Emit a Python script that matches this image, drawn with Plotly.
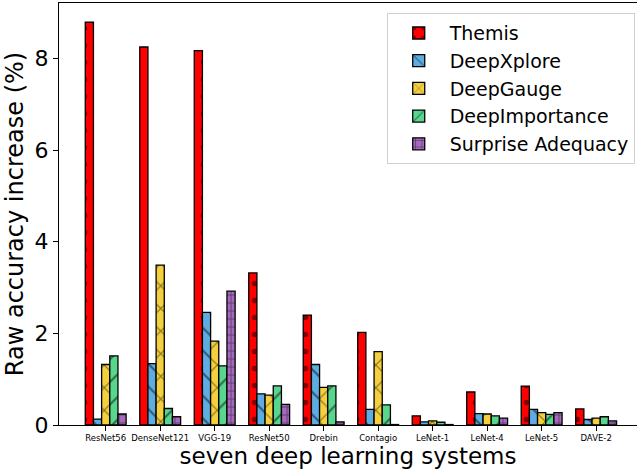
import plotly.graph_objects as go

systems = ["ResNet56", "DenseNet121", "VGG-19", "ResNet50", "Drebin",
           "Contagio", "LeNet-1", "LeNet-4", "LeNet-5", "DAVE-2"]
themis = [8.79, 8.25, 8.17, 3.32, 2.40, 2.02, 0.20, 0.72, 0.85, 0.35]
deepxplore = [0.13, 1.34, 2.46, 0.68, 1.32, 0.34, 0.07, 0.25, 0.34, 0.12]
deepgauge = [1.32, 3.49, 1.83, 0.65, 0.82, 1.60, 0.09, 0.24, 0.27, 0.15]
deepimportance = [1.51, 0.36, 1.29, 0.855, 0.855, 0.44, 0.06, 0.20, 0.23, 0.18]
surprise = [0.24, 0.18, 2.92, 0.45, 0.07, 0.01, 0.01, 0.15, 0.27, 0.09]

series = [
    ("Themis", themis, "#FF0000", ".", 17, 0.08),
    ("DeepXplore", deepxplore, "#5DADE2", "\\", 16, 0.12),
    ("DeepGauge", deepgauge, "#F4D03F", "x", 16, 0.12),
    ("DeepImportance", deepimportance, "#58D68D", "/", 16, 0.12),
    ("Surprise Adequacy", surprise, "#A569BD", "+", 8, 0.18),
]

fig = go.Figure()
for name, vals, color, shape, psize, sol in series:
    fig.add_trace(go.Bar(
        name=name, x=list(range(len(systems))), y=vals,
        marker=dict(color=color, line=dict(color="black", width=1.3),
                    pattern=dict(shape=shape, fgcolor="black", bgcolor=color,
                                 size=psize, solidity=sol, fillmode="overlay")),
    ))

fig.update_layout(
    width=637, height=476,
    margin=dict(l=59, r=0, t=3, b=51),
    paper_bgcolor="white", plot_bgcolor="white",
    font=dict(family="DejaVu Sans", color="black"),
    barmode="group", bargap=0.25, bargroupgap=0,
    showlegend=True,
    legend=dict(x=0.567, y=0.976, xanchor="left", yanchor="top",
                font=dict(size=19), bordercolor="#D0D0D0", borderwidth=1,
                bgcolor="rgba(255,255,255,0.8)", tracegroupgap=0,
                itemwidth=52),
)
fig.update_xaxes(
    range=[-0.857, 9.75], tickvals=list(range(len(systems))), ticktext=systems,
    tickfont=dict(size=8.5), showline=True, linecolor="black", linewidth=1,
    mirror=True, ticks="outside", ticklen=5, tickcolor="black",
    title=dict(text="seven deep learning systems", font=dict(size=23), standoff=4),
    showgrid=False, zeroline=False, automargin=False,
)
fig.update_yaxes(
    range=[0, 9.21], tickvals=[0, 2, 4, 6, 8], tickfont=dict(size=22),
    showline=True, linecolor="black", linewidth=1, ticks="outside", ticklen=5,
    tickcolor="black", showgrid=False, zeroline=False, automargin=False,
    title=dict(text="Raw accuracy increase (%)", font=dict(size=24), standoff=4),
)

fig.write_html("out.html", config={"displayModeBar": False},
               post_script="document.body.style.margin='0';document.body.style.overflow='hidden';")
